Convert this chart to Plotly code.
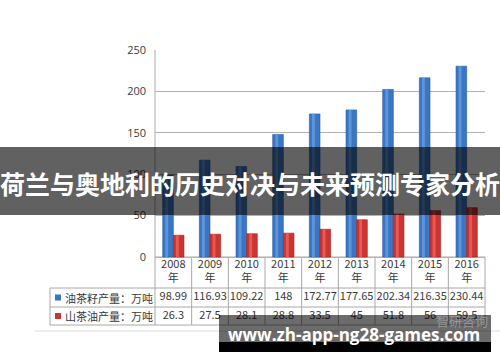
import plotly.graph_objects as go

years = ["2008", "2009", "2010", "2011", "2012", "2013", "2014", "2015", "2016"]
seed_output = [98.99, 116.93, 109.22, 148, 172.77, 177.65, 202.34, 216.35, 230.44]
oil_output = [26.3, 27.5, 28.1, 28.8, 33.5, 45, 51.8, 56, 59.5]
seed_labels = ["98.99", "116.93", "109.22", "148", "172.77", "177.65", "202.34", "216.35", "230.44"]
oil_labels = ["26.3", "27.5", "28.1", "28.8", "33.5", "45", "51.8", "56", "59.5"]
series_names = ["油茶籽产量：万吨", "山茶油产量：万吨"]
y_ticks = [0, 50, 100, 150, 200, 250]
title_text = "荷兰与奥地利的历史对决与未来预测专家分析"
watermark_text = "www.zh-app-ng28-games.com"
source_text = "智研咨询"

W, H = 500, 362
ZERO_PX = 257          # pixel row of value 0
TOP_PX = 50            # pixel row of value 250
TABLE_BOTTOM = 325
L, R, T, B = 155, 15, TOP_PX, H - TABLE_BOTTOM
PW, PH = W - L - R, H - T - B
YMAX = 250
UNIT = YMAX / (ZERO_PX - TOP_PX)        # data units per pixel
YMIN = -(TABLE_BOTTOM - ZERO_PX) * UNIT


def px(x):
    return (x - L) / PW


def py(y):
    return (H - B - y) / PH


def yval(y):
    return (ZERO_PX - y) * UNIT


BLUE = "#3a76c4"
BLUE_HI = "#5c95dc"
RED = "#cc3431"
RED_HI = "#e45b56"
GRID = "#b3b3b3"
TXT = "#3a3a3a"
FONT = "Noto Sans CJK SC, Open Sans, sans-serif"

fig = go.Figure()
bw = 0.29
fig.add_trace(go.Bar(x=years, y=seed_output, offset=-bw, width=bw, marker=dict(color=BLUE, line=dict(color="#2a5a9c", width=0.6)), hoverinfo="skip"))
fig.add_trace(go.Bar(x=years, y=seed_output, offset=-bw + 0.07, width=0.08, marker=dict(color=BLUE_HI, line=dict(width=0)), hoverinfo="skip"))
fig.add_trace(go.Bar(x=years, y=oil_output, offset=0, width=bw, marker=dict(color=RED, line=dict(color="#9c2422", width=0.6)), hoverinfo="skip"))
fig.add_trace(go.Bar(x=years, y=oil_output, offset=0.07, width=0.08, marker=dict(color=RED_HI, line=dict(width=0)), hoverinfo="skip"))

# table cell texts (data layer so the overlays can cover them)
cell_font = dict(size=11, color=TXT, family=FONT)
fig.add_trace(go.Scatter(x=years, y=[yval(265)] * 9, mode="text", text=years, textfont=cell_font, cliponaxis=False, hoverinfo="skip"))
fig.add_trace(go.Scatter(x=years, y=[yval(279)] * 9, mode="text", text=["年"] * 9, textfont=cell_font, cliponaxis=False, hoverinfo="skip"))
fig.add_trace(go.Scatter(x=years, y=[yval(297.5)] * 9, mode="text", text=seed_labels, textfont=cell_font, cliponaxis=False, hoverinfo="skip"))
fig.add_trace(go.Scatter(x=years, y=[yval(316)] * 9, mode="text", text=oil_labels, textfont=cell_font, cliponaxis=False, hoverinfo="skip"))

shapes = []
line_c = "#a8a8a8"
# table grid
for i in range(10):
    xx = 155 + i * PW / 9
    shapes.append(dict(type="line", xref="paper", yref="paper", x0=px(xx), x1=px(xx), y0=py(257), y1=py(325), line=dict(color=line_c, width=1), layer="below"))
for yy in (288, 307, 325):
    shapes.append(dict(type="line", xref="paper", yref="paper", x0=px(50), x1=px(485), y0=py(yy), y1=py(yy), line=dict(color=line_c, width=1), layer="below"))
shapes.append(dict(type="line", xref="paper", yref="paper", x0=px(155), x1=px(485), y0=py(257), y1=py(257), line=dict(color=line_c, width=1), layer="below"))
shapes.append(dict(type="line", xref="paper", yref="paper", x0=px(50), x1=px(50), y0=py(288), y1=py(325), line=dict(color=line_c, width=1), layer="below"))
shapes.append(dict(type="line", xref="paper", yref="paper", x0=0, x1=0, y0=py(257), y1=py(50), line=dict(color=line_c, width=1), layer="below"))
# legend keys
shapes.append(dict(type="rect", xref="paper", yref="paper", x0=px(55), x1=px(61), y0=py(300.5), y1=py(294.5), fillcolor=BLUE, line=dict(width=0), layer="below"))
shapes.append(dict(type="rect", xref="paper", yref="paper", x0=px(55), x1=px(61), y0=py(319), y1=py(313), fillcolor=RED, line=dict(width=0), layer="below"))
# chart border bottom
shapes.append(dict(type="line", xref="paper", yref="paper", x0=px(35), x1=px(500), y0=py(331), y1=py(331), line=dict(color="#dadada", width=1), layer="below"))
# title overlay band
shapes.append(dict(type="rect", xref="paper", yref="paper", x0=px(0), x1=px(500), y0=py(215), y1=py(147), fillcolor="rgba(0,0,0,0.62)", line=dict(width=0), layer="above"))
# watermark bands
shapes.append(dict(type="rect", xref="paper", yref="paper", x0=px(219), x1=px(491), y0=py(342), y1=py(315), fillcolor="rgba(0,0,0,0.58)", line=dict(width=0), layer="above"))
shapes.append(dict(type="rect", xref="paper", yref="paper", x0=px(219), x1=px(491), y0=py(352), y1=py(342), fillcolor="#000000", line=dict(width=0), layer="above"))

annotations = [
    dict(xref="paper", yref="paper", x=px(63), y=py(297.5), text=series_names[0], showarrow=False, xanchor="left", yanchor="middle", font=dict(size=11, color=TXT, family=FONT)),
    dict(xref="paper", yref="paper", x=px(63), y=py(316), text=series_names[1], showarrow=False, xanchor="left", yanchor="middle", font=dict(size=11, color=TXT, family=FONT)),
    dict(xref="paper", yref="paper", x=px(462), y=py(320), text=source_text, showarrow=False, xanchor="center", yanchor="middle", font=dict(size=13, color="rgba(190,190,190,0.55)", family=FONT)),
    dict(xref="paper", yref="paper", x=px(250), y=py(183), text="<b>" + title_text + "</b>", showarrow=False, xanchor="center", yanchor="middle", font=dict(size=25, color="white", family=FONT)),
    dict(xref="paper", yref="paper", x=px(354), y=py(334), text="<b>" + watermark_text + "</b>", showarrow=False, xanchor="center", yanchor="middle", font=dict(size=17, color="white", family="Open Sans, DejaVu Sans, sans-serif")),
]

fig.update_layout(
    width=W, height=H,
    margin=dict(l=L, r=R, t=T, b=B),
    paper_bgcolor="white", plot_bgcolor="white",
    barmode="overlay", showlegend=False,
    shapes=shapes, annotations=annotations,
    xaxis=dict(type="category", range=[-0.5, 8.5], showticklabels=False, showgrid=False, zeroline=False, showline=False, ticks=""),
    yaxis=dict(range=[YMIN, YMAX], tickvals=y_ticks, showgrid=True, gridcolor=GRID, gridwidth=1, zeroline=False,
               showline=False, ticks="", ticklabelstandoff=8,
               tickfont=dict(size=11, color=TXT, family="Open Sans, sans-serif")),
)

fig.write_html("out.html", config={"displayModeBar": False}, post_script="document.body.style.margin='0';")
